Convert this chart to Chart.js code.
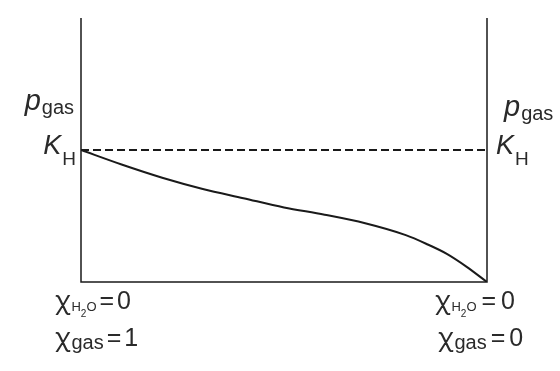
<!DOCTYPE html>
<html>
<head>
<meta charset="utf-8">
<script src="https://cdn.jsdelivr.net/npm/chart.js@4.4.1/dist/chart.umd.min.js"></script>
<style>
  html, body { margin: 0; padding: 0; background: #fff; }
  #wrap { width: 560px; height: 371px; position: relative; }
</style>
</head>
<body>
<div id="wrap"><canvas id="c" width="560" height="371"></canvas></div>
<script>
// Mole fraction of water (0..1) along the horizontal axis
const xValues = [0, 0.1, 0.2, 0.3, 0.4, 0.5, 0.6, 0.7, 0.8, 0.85, 0.9, 0.95, 1.0];
// Partial pressure of gas, in units of K_H
const pressureValues = [1.0, 0.89, 0.79, 0.705, 0.635, 0.565, 0.51, 0.445, 0.355, 0.29, 0.215, 0.115, 0.0];
// Henry's-law constant level (dashed reference line)
const henryX = [0, 1];
const henryValues = [1, 1];
// Axis ranges
const xRange = [0, 1];
const yRange = [0, 2];
// Bottom labels: value of chi_H2O and chi_gas at left and right edge
const leftLabels = ['0', '1'];
const rightLabels = ['0', '0'];

const ink = '#1a1a1a';
const textInk = '#2a2a2a';
const FAM = '"Liberation Sans", Arial, Helvetica, sans-serif';
const GREEK = '"Noto Sans", "DejaVu Sans", sans-serif';

function drawRich(ctx, x, y, parts, align) {
  let total = 0;
  parts.forEach(p => { ctx.font = p.font; p.w = ctx.measureText(p.t).width; total += p.w + (p.gap || 0); });
  let cx = align === 'right' ? x - total : x;
  parts.forEach(p => {
    ctx.font = p.font;
    ctx.fillText(p.t, cx + (p.gap || 0), y + (p.dy || 0));
    cx += p.w + (p.gap || 0);
  });
}

const framePlugin = {
  id: 'frame',
  afterDatasetsDraw(chart) {
    const ctx = chart.ctx;
    const xs = chart.scales.x, ys = chart.scales.y;
    const x0 = xs.getPixelForValue(xRange[0]);
    const x1 = xs.getPixelForValue(xRange[1]);
    const y0 = ys.getPixelForValue(yRange[0]);
    const yTop = ys.getPixelForValue(yRange[1]);
    const yK = ys.getPixelForValue(henryValues[0]);
    ctx.save();
    ctx.strokeStyle = ink;
    ctx.lineWidth = 1.5;
    ctx.beginPath();
    ctx.moveTo(x0, yTop); ctx.lineTo(x0, y0); ctx.lineTo(x1, y0); ctx.lineTo(x1, yTop);
    ctx.stroke();

    ctx.fillStyle = textInk;
    ctx.textBaseline = 'alphabetic';
    const bigP = 'italic 29px ' + FAM;
    const bigK = 'italic 27px ' + FAM;
    const subH = '19px ' + FAM;
    const subG = '20px ' + FAM;
    // left labels
    drawRich(ctx, x0 - 7, yK - 40, [{t: 'p', font: bigP}, {t: 'gas', font: subG, dy: 4, gap: 1}], 'right');
    drawRich(ctx, x0 - 5, yK + 4, [{t: 'K', font: bigK}, {t: 'H', font: subH, dy: 11, gap: 1}], 'right');
    // right labels
    drawRich(ctx, x1 + 17, yK - 34, [{t: 'p', font: bigP}, {t: 'gas', font: subG, dy: 4, gap: 1}], 'left');
    drawRich(ctx, x1 + 9, yK + 4, [{t: 'K', font: bigK}, {t: 'H', font: subH, dy: 11, gap: 1}], 'left');

    // bottom labels
    const chi = '26px ' + GREEK;
    const main = '25px ' + FAM;
    function eqPart(cx, y, val, extra) {
      ctx.font = main;
      ctx.fillText('=', cx + 2 + extra, y);
      cx += ctx.measureText('=').width + 5 + extra * 2;
      ctx.fillText(val, cx, y);
    }
    function h2oLine(x, y, val, extra) {
      ctx.font = chi; ctx.fillText('χ', x, y);
      let cx = x + ctx.measureText('χ').width + 1;
      ctx.font = '13px ' + FAM; ctx.fillText('H', cx, y + 2);
      cx += ctx.measureText('H').width;
      ctx.font = '10px ' + FAM; ctx.fillText('2', cx, y + 8);
      cx += ctx.measureText('2').width;
      ctx.font = '13px ' + FAM; ctx.fillText('O', cx, y + 2);
      cx += ctx.measureText('O').width + 1;
      eqPart(cx, y, val, extra);
    }
    function gasLine(x, y, val, extra) {
      ctx.font = chi; ctx.fillText('χ', x, y);
      let cx = x + ctx.measureText('χ').width + 1;
      ctx.font = '20px ' + FAM; ctx.fillText('gas', cx, y + 3);
      cx += ctx.measureText('gas').width + 1;
      eqPart(cx, y, val, extra);
    }
    h2oLine(x0 - 26, y0 + 27, leftLabels[0], 0);
    gasLine(x0 - 26, y0 + 64, leftLabels[1], 0);
    h2oLine(x1 - 52, y0 + 27, rightLabels[0], 2);
    gasLine(x1 - 49, y0 + 64, rightLabels[1], 1);
    ctx.restore();
  }
};

new Chart(document.getElementById('c'), {
  type: 'scatter',
  data: {
    datasets: [
      {
        data: henryX.map((x, i) => ({x, y: henryValues[i]})),
        showLine: true,
        borderColor: ink,
        borderWidth: 2,
        borderDash: [8, 4],
        pointRadius: 0,
        fill: false
      },
      {
        data: xValues.map((x, i) => ({x, y: pressureValues[i]})),
        showLine: true,
        borderColor: ink,
        borderWidth: 2,
        cubicInterpolationMode: 'monotone',
        pointRadius: 0,
        fill: false
      }
    ]
  },
  plugins: [framePlugin],
  options: {
    responsive: false,
    animation: false,
    devicePixelRatio: 1,
    layout: { padding: { left: 81, right: 73, top: 18, bottom: 89 } },
    plugins: { legend: { display: false }, tooltip: { enabled: false } },
    scales: {
      x: { type: 'linear', min: xRange[0], max: xRange[1], display: false },
      y: { type: 'linear', min: yRange[0], max: yRange[1], display: false }
    }
  }
});
</script>
</body>
</html>
